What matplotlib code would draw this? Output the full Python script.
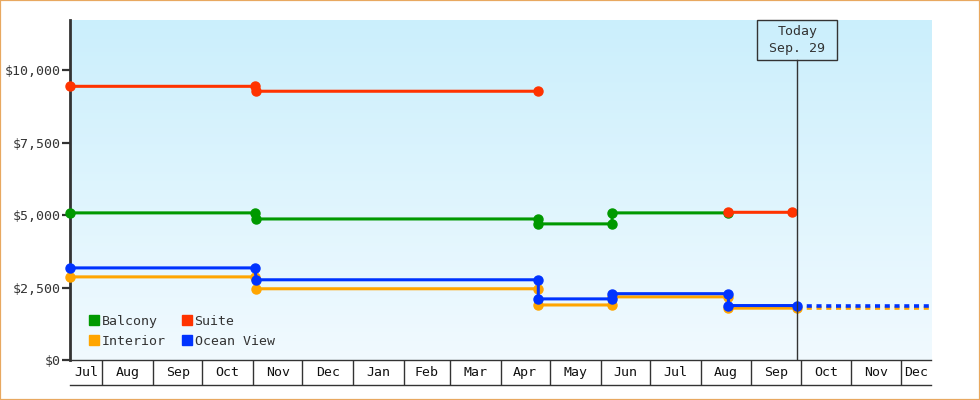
import numpy as np
import matplotlib
matplotlib.use("Agg")
import matplotlib.pyplot as plt
import matplotlib.dates as mdates
from matplotlib.lines import Line2D
from matplotlib.patches import Rectangle
from matplotlib.transforms import blended_transform_factory
from datetime import datetime

# ---- data ----
balcony_dates = ["2013-07-12", "2013-11-02", "2013-11-03", "2014-04-24", "2014-04-24",
                 "2014-06-08", "2014-06-08", "2014-08-18"]
balcony_vals = [5080, 5080, 4870, 4870, 4700, 4700, 5080, 5080]

suite_dates = ["2013-07-12", "2013-11-02", "2013-11-03", "2014-04-24", "2014-04-25",
               "2014-08-18", "2014-09-26"]
suite_vals = [9450, 9450, 9280, 9280, np.nan, 5100, 5100]

interior_dates = ["2013-07-12", "2013-11-02", "2013-11-03", "2014-04-24", "2014-04-24",
                  "2014-06-08", "2014-06-08", "2014-08-18", "2014-08-18", "2014-09-29"]
interior_vals = [2870, 2870, 2460, 2460, 1900, 1900, 2180, 2180, 1790, 1790]

ocean_dates = ["2013-07-12", "2013-11-02", "2013-11-03", "2014-04-24", "2014-04-24",
               "2014-06-08", "2014-06-08", "2014-08-18", "2014-08-18", "2014-09-29"]
ocean_vals = [3180, 3180, 2770, 2770, 2110, 2110, 2290, 2290, 1880, 1880]

today = datetime(2014, 9, 29)
today_label = "Today\nSep. 29"
x_start = datetime(2013, 7, 12, 7)
x_end = datetime(2014, 12, 19, 14)
y_ticks = [0, 2500, 5000, 7500, 10000]
month_starts = ["2013-08-01", "2013-09-01", "2013-10-01", "2013-11-01", "2013-12-01",
                "2014-01-01", "2014-02-01", "2014-03-01", "2014-04-01", "2014-05-01",
                "2014-06-01", "2014-07-01", "2014-08-01", "2014-09-01", "2014-10-01",
                "2014-11-01", "2014-12-01"]
month_labels = ["Jul", "Aug", "Sep", "Oct", "Nov", "Dec", "Jan", "Feb", "Mar", "Apr",
                "May", "Jun", "Jul", "Aug", "Sep", "Oct", "Nov", "Dec"]

FONT = "DejaVu Sans Mono"
TXT = "#333333"
plt.rcParams["font.family"] = FONT
plt.rcParams["font.size"] = 9.5


def to_dt(lst):
    return [datetime.strptime(d, "%Y-%m-%d") for d in lst]


fig = plt.figure(figsize=(9.8, 4), dpi=100, facecolor="white")
fig.patches.append(Rectangle((0, 0), 1, 1, transform=fig.transFigure, fill=False,
                             edgecolor="#e8a860", linewidth=1.6, zorder=10))

L, R = 70 / 980, 931 / 980
ax = fig.add_axes([L, 40 / 400, R - L, 340 / 400])
ax.set_xlim(x_start, x_end)
ax.set_ylim(0, 11740)

# gradient background
grad = np.linspace(0, 1, 256).reshape(-1, 1)
top = np.array([203, 239, 252]) / 255
bot = np.array([241, 250, 255]) / 255
img = top[None, None, :] * (1 - grad[:, :, None]) + bot[None, None, :] * grad[:, :, None]
ax.imshow(img, extent=[0, 1, 0, 1], transform=ax.transAxes, aspect="auto", zorder=0)

series = [
    ("Interior", interior_dates, interior_vals, "#ffa500"),
    ("Ocean View", ocean_dates, ocean_vals, "#0033ff"),
    ("Balcony", balcony_dates, balcony_vals, "#009900"),
    ("Suite", suite_dates, suite_vals, "#ff3300"),
]
for name, d, v, c in series:
    ax.plot(to_dt(d), v, color=c, lw=2.2, marker="o", ms=6.5, clip_on=False, zorder=3)

# projection past today
for name, d, v, c in series[:2]:
    ax.plot([today, x_end], [v[-1], v[-1]], color=c, lw=2.6,
            linestyle=(0, (1.4, 1.3)), zorder=2, clip_on=False)

# today marker
yb = (360 - 60) / 340
ax.axvline(today, ymin=0, ymax=yb, color=TXT, lw=1, zorder=4)
tr = blended_transform_factory(ax.transData, ax.transAxes)
half = 40 / 1.6386
tnum = mdates.date2num(today)
ax.add_patch(Rectangle((tnum - half, yb), 2 * half, 40 / 340, transform=tr,
                       fill=False, edgecolor=TXT, lw=1, clip_on=False, zorder=5))
ax.text(today, (360 - 40) / 340, today_label, transform=tr, ha="center", va="center",
        color=TXT, fontsize=9.5, linespacing=1.35, zorder=6)

# axes styling
for s in ["top", "right"]:
    ax.spines[s].set_visible(False)
ax.spines["left"].set_color(TXT)
ax.spines["left"].set_linewidth(2)
ax.spines["bottom"].set_color(TXT)
ax.spines["bottom"].set_linewidth(1)
ax.set_yticks(y_ticks)
ax.set_yticklabels(["${:,}".format(t) for t in y_ticks], color=TXT)
ax.tick_params(axis="y", length=6, width=1.6, color=TXT, pad=1)
ax.set_xticks([])

# legend
handles = [Line2D([], [], marker="s", ls="none", color=c, ms=7.5) for _, _, _, c in
           [series[2], series[0], series[3], series[1]]]
labels = ["Balcony", "Interior", "Suite", "Ocean View"]
ax.legend(handles, labels, ncol=2, loc="upper left", bbox_to_anchor=(0.022, 0.133),
          frameon=False, handlelength=0.8, handletextpad=0.15, columnspacing=1.25,
          borderpad=0, borderaxespad=0, labelspacing=0.55, labelcolor=TXT)

# month boxes under the plot
ax2 = fig.add_axes([L, 15 / 400, R - L, 25 / 400], sharex=ax)
ax2.set_ylim(0, 1)
ax2.patch.set_alpha(0)
for s in ["top", "left", "right"]:
    ax2.spines[s].set_visible(False)
ax2.spines["bottom"].set_color(TXT)
ax2.spines["bottom"].set_linewidth(1)
ax2.set_yticks([])
ax2.tick_params(axis="x", length=0, labelbottom=False)
bounds = [x_start] + to_dt(month_starts) + [x_end]
for b in to_dt(month_starts):
    ax2.axvline(b, color=TXT, lw=1)
for i, lab in enumerate(month_labels):
    mid = mdates.num2date((mdates.date2num(bounds[i]) + mdates.date2num(bounds[i + 1])) / 2)
    ax2.text(mid, 0.5, lab, ha="center", va="center", color="#111111", fontsize=9.5)

fig.savefig("out.png", dpi=100, facecolor="white")
